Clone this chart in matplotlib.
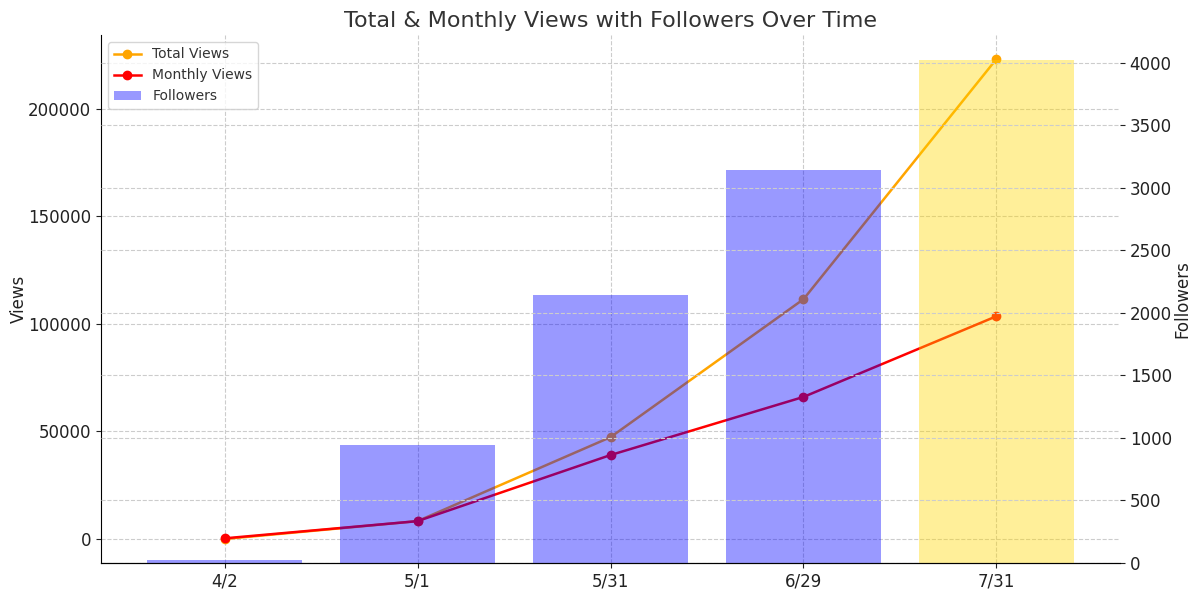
import matplotlib
matplotlib.use("Agg")
from matplotlib import pyplot as plt

# Données
dates = ["4/2", "5/1", "5/31", "6/29", "7/31"]
total_views = [0, 8300, 47300, 111400, 223000]
monthly_views = [300, 8300, 39000, 66000, 103500]
followers = [20, 940, 2140, 3140, 4020]
bar_colors = ["blue", "blue", "blue", "blue", "gold"]

plt.rcParams["font.family"] = ["DejaVu Sans"]
plt.rcParams["text.color"] = "#333333"
plt.rcParams["axes.labelcolor"] = "#222222"
plt.rcParams["xtick.color"] = "#222222"
plt.rcParams["ytick.color"] = "#222222"

fig, ax1 = plt.subplots(figsize=(12, 5.95), dpi=100)
x = range(len(dates))

# Courbes des vues
l1, = ax1.plot(x, total_views, color="orange", marker="o", linewidth=1.8, label="Total Views")
l2, = ax1.plot(x, monthly_views, color="red", marker="o", linewidth=1.8, label="Monthly Views")
ax1.set_ylabel("Views", fontsize=12, labelpad=0.5)
ax1.set_xticks(list(x))
ax1.set_xticklabels(dates)
ax1.tick_params(labelsize=12)
ax1.grid(True, linestyle="--", color="#cccccc", linewidth=0.8)

# Barres des abonnés sur l'axe secondaire
ax2 = ax1.twinx()
bars = ax2.bar(x, followers, color=bar_colors, alpha=0.4, label="Followers")
ax2.set_ylabel("Followers", fontsize=12, labelpad=1)
ax2.tick_params(labelsize=12)
ax2.grid(True, linestyle="--", color="#cccccc", linewidth=0.8)

for a in (ax1, ax2):
    a.spines["top"].set_visible(False)
    a.spines["right"].set_visible(False)
ax2.spines["left"].set_visible(False)

ax1.set_title("Total & Monthly Views with Followers Over Time", fontsize=16, color="#333333")
ax2.legend([l1, l2, bars], ["Total Views", "Monthly Views", "Followers"],
           loc="upper left", fontsize=10)

fig.subplots_adjust(left=101 / 1200, right=1120 / 1200, top=1 - 35 / 595, bottom=1 - 563 / 595)
fig.savefig("out.png")
